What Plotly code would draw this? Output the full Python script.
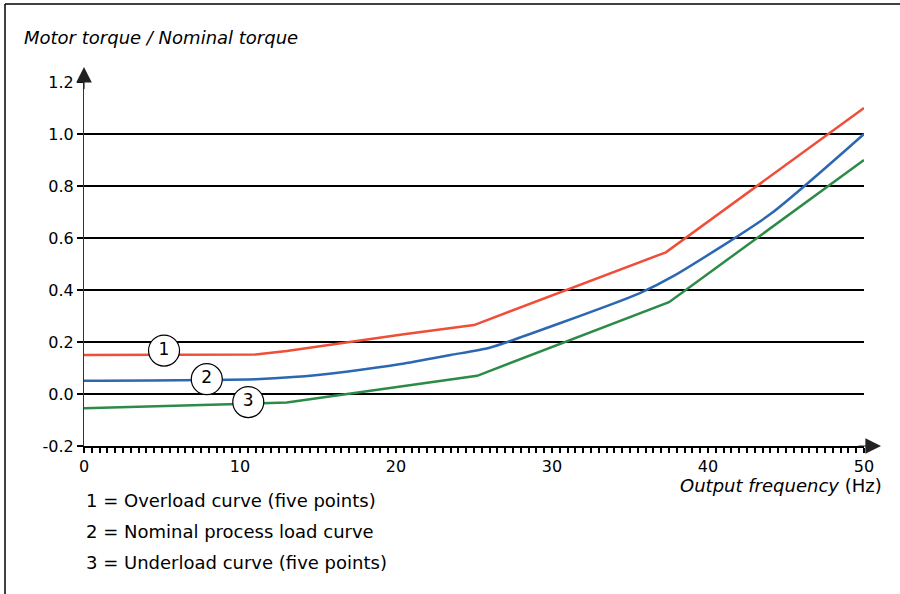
import plotly.graph_objects as go

# Load curves: motor torque relative to nominal torque vs. output frequency
freq_overload = [0, 11, 13, 17, 20.5, 25, 37.3, 50]
torque_overload = [0.15, 0.152, 0.165, 0.2, 0.23, 0.265, 0.545, 1.1]

freq_nominal = [0, 11, 13.4, 16.8, 20.3, 23.5, 26, 30.5, 35.6, 37.8, 44, 50]
torque_nominal = [0.051, 0.057, 0.065, 0.086, 0.115, 0.15, 0.178, 0.272, 0.387, 0.454, 0.692, 1.0]

freq_underload = [0, 13, 25.2, 37.5, 50]
torque_underload = [-0.055, -0.033, 0.07, 0.353, 0.9]

# Numbered circle markers identifying each curve
marker_labels = ["1", "2", "3"]
marker_freq = [5.13, 7.87, 10.53]
marker_torque = [0.167, 0.057, -0.031]

y_ticks = [-0.2, 0.0, 0.2, 0.4, 0.6, 0.8, 1.0, 1.2]
y_tick_text = ["-0.2", "0.0", "0.2", "0.4", "0.6", "0.8", "1.0", "1.2"]
x_ticks = [0, 10, 20, 30, 40, 50]

legend_lines = [
    "1 = Overload curve (five points)",
    "2 = Nominal process load curve",
    "3 = Underload curve (five points)",
]

RED = "#EF4E38"
BLUE = "#2C68B2"
GREEN = "#2C8B47"
FONT = "DejaVu Sans, Arial, sans-serif"

W, H = 900, 594
ML, MR, MT, MB = 84, 36, 82, 148
PW, PH = W - ML - MR, H - MT - MB
X_RANGE = [0, 50]
Y_RANGE = [-0.2, 1.2]


def px(xp):
    return (xp - ML) / PW


def py(yp):
    return (H - MB - yp) / PH


fig = go.Figure()

for fx, ty, col, name in [
    (freq_overload, torque_overload, RED, "Overload"),
    (freq_nominal, torque_nominal, BLUE, "Nominal"),
    (freq_underload, torque_underload, GREEN, "Underload"),
]:
    fig.add_trace(go.Scatter(
        x=fx, y=ty, mode="lines", name=name,
        line=dict(color=col, width=2.5,
                  shape="spline" if name == "Nominal" else "linear",
                  smoothing=0.6 if name == "Nominal" else None),
        hoverinfo="skip", cliponaxis=False,
    ))

fig.add_trace(go.Scatter(
    x=marker_freq, y=marker_torque, mode="markers+text",
    text=marker_labels, textposition="middle center",
    textfont=dict(family=FONT, size=17, color="black"),
    marker=dict(size=31, color="white", line=dict(color="black", width=1.2)),
    hoverinfo="skip", cliponaxis=False,
))

fig.update_layout(
    width=W, height=H,
    margin=dict(l=ML, r=MR, t=MT, b=MB, pad=0),
    paper_bgcolor="white", plot_bgcolor="white",
    showlegend=False,
    font=dict(family=FONT, size=16, color="black"),
    xaxis=dict(
        range=X_RANGE, tickvals=x_ticks, ticktext=[str(v) for v in x_ticks],
        showgrid=False, zeroline=False,
        showline=True, linecolor="black", linewidth=2,
        ticks="outside", ticklen=5, tickwidth=1.5, tickcolor="black",
        minor=dict(dtick=0.5, ticks="outside", ticklen=5, tickwidth=1.5,
                   tickcolor="black", showgrid=False),
        tickfont=dict(size=16),
    ),
    yaxis=dict(
        range=Y_RANGE, tickvals=y_ticks, ticktext=y_tick_text,
        showgrid=True, gridcolor="black", gridwidth=2,
        zeroline=False,
        showline=True, linecolor="#333333", linewidth=1.2,
        ticks="outside", ticklen=6, tickwidth=1.5, tickcolor="black",
        tickfont=dict(size=16),
    ),
)

# Axis arrowheads (paper-referenced so they may sit past the axis ends)
fig.add_annotation(x=px(84), y=py(67), xref="paper", yref="paper",
                   ax=0, ay=24, showarrow=True,
                   arrowhead=2, arrowsize=2.6, arrowwidth=1.2, arrowcolor="#222222",
                   text=" ", font=dict(size=1))
fig.add_annotation(x=px(881), y=py(446), xref="paper", yref="paper",
                   ax=-24, ay=0, showarrow=True,
                   arrowhead=2, arrowsize=2.6, arrowwidth=1.2, arrowcolor="#222222",
                   text=" ", font=dict(size=1))

# Axis titles
fig.add_annotation(text="<i>Motor torque / Nominal torque</i>", xref="paper", yref="paper",
                   x=px(22), y=py(37), xanchor="left", yanchor="middle",
                   showarrow=False, font=dict(size=18))
fig.add_annotation(text="<i>Output frequency</i> (Hz)", xref="paper", yref="paper",
                   x=px(884), y=py(485), xanchor="right", yanchor="middle",
                   showarrow=False, font=dict(size=18))

# Curve key
for i, line in enumerate(legend_lines):
    fig.add_annotation(text=line, xref="paper", yref="paper",
                       x=px(84), y=py(501 + 30.5 * i), xanchor="left", yanchor="middle",
                       showarrow=False, font=dict(size=18))

# Frame lines along the top and left edges
fig.add_shape(type="line", xref="paper", yref="paper",
              x0=px(5), y0=py(4), x1=px(900), y1=py(4),
              line=dict(color="black", width=1.5))
fig.add_shape(type="line", xref="paper", yref="paper",
              x0=px(5), y0=py(4), x1=px(5), y1=py(594),
              line=dict(color="black", width=1.5))

fig.write_html("out.html")
